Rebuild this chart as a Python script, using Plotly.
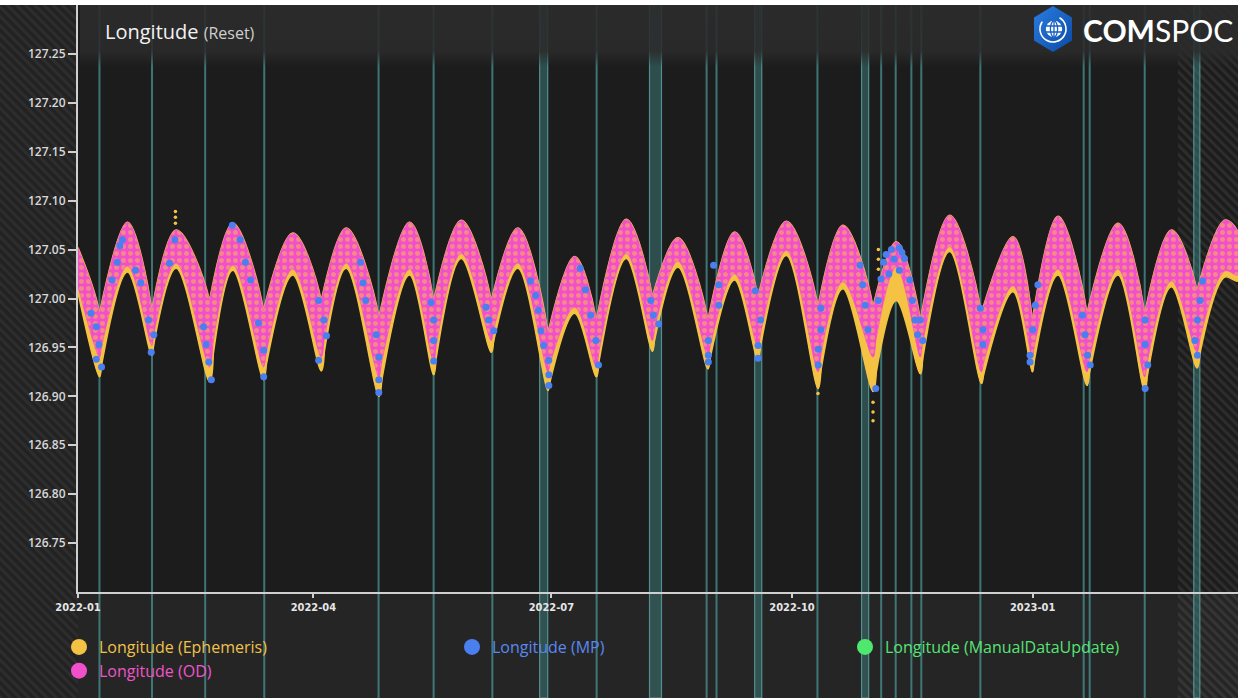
import base64
import plotly.graph_objects as go

# ---------------- data ----------------
# band boundaries: left edge, 21 troughs (manoeuvre cusps), right edge
bound_dates = ['2022-01-01 00:00', '2022-01-09 05:00', '2022-01-29 05:00', '2022-02-20 07:00',
               '2022-03-12 22:00', '2022-04-04 00:00', '2022-04-26 01:00', '2022-05-16 23:00',
               '2022-06-08 00:00', '2022-06-29 16:00', '2022-07-18 04:00', '2022-08-08 14:00',
               '2022-08-29 20:00', '2022-09-17 23:00', '2022-10-10 22:00', '2022-10-31 23:00',
               '2022-11-19 01:00', '2022-12-12 09:00', '2022-12-31 21:00', '2023-01-21 18:00',
               '2023-02-12 20:00', '2023-03-04 20:00', '2023-03-20 12:00']
eph_bound_upper = [127.052, 126.985, 126.988, 126.998, 126.988, 126.998, 126.981, 126.998,
                   126.998, 126.965, 126.978, 127.002, 126.978, 127.002, 126.992, 126.992,
                   126.978, 126.985, 126.978, 126.985, 126.985, 127.008, 127.068]
eph_bound_lower = [127.006, 126.920, 126.942, 126.915, 126.917, 126.926, 126.900, 126.922,
                   126.945, 126.906, 126.920, 126.946, 126.928, 126.937, 126.908, 126.905,
                   126.923, 126.913, 126.925, 126.911, 126.905, 126.929, 127.018]
# arch tops between troughs
peak_dates = ['2022-01-19 22:00', '2022-02-07 13:00', '2022-03-01 05:00', '2022-03-24 03:00',
              '2022-04-13 13:00', '2022-05-07 18:00', '2022-05-27 13:00', '2022-06-18 04:00',
              '2022-07-09 21:00', '2022-07-29 15:00', '2022-08-18 09:00', '2022-09-09 01:00',
              '2022-09-28 20:00', '2022-10-20 11:00', '2022-11-09 21:00', '2022-11-30 06:00',
              '2022-12-24 12:00', '2023-01-10 16:00', '2023-02-02 15:00', '2023-02-23 01:00',
              '2023-03-15 10:00']
eph_peak_upper = [127.078, 127.070, 127.077, 127.067, 127.072, 127.078, 127.080, 127.072,
                  127.043, 127.081, 127.062, 127.068, 127.079, 127.075, 127.058, 127.085,
                  127.063, 127.084, 127.077, 127.070, 127.080]
eph_peak_lower = [127.027, 127.031, 127.029, 127.024, 127.031, 127.024, 127.041, 127.031,
                  126.985, 127.041, 127.032, 127.019, 127.044, 127.010, 126.998, 127.048,
                  127.007, 127.024, 127.024, 127.012, 127.022]
# OD (pink) lower reach
od_bound_lower = [127.012, 126.940, 126.952, 126.930, 126.930, 126.940, 126.920, 126.935,
                  126.957, 126.925, 126.930, 126.957, 126.940, 126.950, 126.925, 126.940,
                  126.940, 126.925, 126.940, 126.925, 126.920, 126.945, 127.024]
od_peak_lower = [127.033, 127.036, 127.034, 127.030, 127.036, 127.030, 127.046, 127.036,
                 126.991, 127.046, 127.038, 127.025, 127.049, 127.017, 127.032, 127.053,
                 127.013, 127.030, 127.030, 127.018, 127.028]
# isolated ephemeris streaks (spikes)
eph_extra_dates = ['2022-02-07 06:00', '2022-02-07 06:00', '2022-02-07 06:00',
                   '2022-11-03 00:00', '2022-11-03 00:00', '2022-11-03 00:00',
                   '2022-10-31 23:00', '2022-10-31 23:00', '2022-10-31 23:00',
                   '2022-10-10 22:00']
eph_extra_values = [127.089, 127.083, 127.077, 127.050, 127.040, 127.030,
                    126.875, 126.884, 126.894, 126.903]
# MP (blue) points
mp_dates = ['2022-01-06', '2022-01-08', '2022-01-09', '2022-01-08', '2022-01-10',
            '2022-01-14', '2022-01-16', '2022-01-17', '2022-01-18', '2022-01-23', '2022-01-25',
            '2022-01-28', '2022-01-30', '2022-01-29', '2022-02-05', '2022-02-07',
            '2022-02-18', '2022-02-19', '2022-02-20', '2022-02-21',
            '2022-03-01', '2022-03-04', '2022-03-06', '2022-03-08',
            '2022-03-11', '2022-03-13', '2022-03-13',
            '2022-04-03', '2022-04-05', '2022-04-06', '2022-04-03',
            '2022-04-19', '2022-04-20', '2022-04-21',
            '2022-04-25', '2022-04-26', '2022-04-26', '2022-04-26',
            '2022-05-16', '2022-05-17', '2022-05-17', '2022-05-17',
            '2022-06-06', '2022-06-07', '2022-06-09',
            '2022-06-23', '2022-06-25', '2022-06-26', '2022-06-27', '2022-06-28', '2022-06-30',
            '2022-06-30', '2022-06-30',
            '2022-07-12', '2022-07-14', '2022-07-16', '2022-07-18', '2022-07-19',
            '2022-08-08', '2022-08-09', '2022-08-11',
            '2022-08-30', '2022-08-30', '2022-08-30',
            '2022-09-01', '2022-09-03', '2022-09-03',
            '2022-09-17', '2022-09-19', '2022-09-18', '2022-09-18',
            '2022-10-12', '2022-10-12', '2022-10-11', '2022-10-11',
            '2022-10-27', '2022-10-28', '2022-10-29', '2022-10-30',
            '2022-11-02', '2022-11-03', '2022-11-05', '2022-11-08', '2022-11-11', '2022-11-13',
            '2022-11-11', '2022-11-15', '2022-11-16', '2022-11-17', '2022-11-18',
            '2022-11-06', '2022-11-09', '2022-11-07', '2022-11-12', '2022-11-04',
            '2022-11-19', '2022-11-20',
            '2022-12-12', '2022-12-13', '2022-12-13',
            '2022-12-31', '2022-12-31', '2023-01-01', '2023-01-02', '2023-01-03',
            '2023-01-20', '2023-01-21', '2023-01-22', '2023-01-23',
            '2023-02-13', '2023-02-13', '2023-02-14', '2023-02-13',
            '2023-03-07', '2023-03-06', '2023-03-05', '2023-03-04', '2023-03-05']
mp_values = [126.985, 126.971, 126.953, 126.938, 126.930,
             127.019, 127.037, 127.054, 127.060, 127.029, 127.016,
             126.978, 126.963, 126.945, 127.036, 127.060,
             126.971, 126.953, 126.935, 126.917,
             127.075, 127.060, 127.037, 127.019,
             126.975, 126.947, 126.920,
             126.998, 126.978, 126.962, 126.937,
             127.037, 127.016, 126.998,
             126.963, 126.940, 126.917, 126.904,
             126.996, 126.978, 126.957, 126.936,
             126.991, 126.978, 126.967,
             127.018, 127.003, 126.988, 126.967, 126.952, 126.937,
             126.922, 126.911,
             127.031, 127.009, 126.983, 126.957, 126.932,
             126.998, 126.983, 126.974,
             126.957, 126.942, 126.935,
             127.034, 127.014, 126.993,
             127.008, 126.978, 126.952, 126.939,
             126.990, 126.968, 126.948, 126.932,
             127.034, 127.014, 126.993, 126.968,
             126.908, 126.998, 127.037, 127.050, 127.052, 127.041,
             127.029, 127.019, 126.998, 126.978, 126.963,
             127.045, 127.040, 127.025, 127.047, 127.020,
             126.978, 126.957,
             126.990, 126.968, 126.953,
             126.942, 126.935, 126.968, 126.993, 127.014,
             126.983, 126.963, 126.942, 126.932,
             126.978, 126.953, 126.932, 126.908,
             127.018, 126.998, 126.978, 126.957, 126.942]
# event markers (vertical lines) and event windows (bands)
event_dates = ['2022-01-09 05:00', '2022-01-29 07:00', '2022-02-18 15:00', '2022-03-13 05:00',
               '2022-04-25 22:00', '2022-05-16 23:00', '2022-06-08 10:00', '2022-07-18 07:00',
               '2022-08-29 08:00', '2022-09-02 03:00', '2022-10-10 17:00', '2022-11-04 02:00',
               '2022-11-09 15:00', '2022-11-15 15:00', '2022-11-19 10:00', '2022-12-12 00:00',
               '2023-01-20 12:00', '2023-01-22 19:00', '2023-02-12 20:00']
window_starts = ['2022-06-26 12:00', '2022-08-07 12:00', '2022-09-16 17:00',
                 '2022-10-27 14:00', '2023-03-03 14:00']
window_ends = ['2022-06-29 14:00', '2022-08-12 02:00', '2022-09-19 10:00',
               '2022-10-30 07:00', '2023-03-05 22:00']
y_ticks = [126.75, 126.80, 126.85, 126.90, 126.95, 127.00, 127.05, 127.10, 127.15, 127.20, 127.25]
x_range = ['2022-01-01 00:00', '2023-03-20 12:00']
y_range = [126.70, 127.30]

series_names = ['Longitude (Ephemeris)', 'Longitude (MP)', 'Longitude (ManualDataUpdate)', 'Longitude (OD)']

# ---------------- styles ----------------
YELLOW = '#f5c343'
PINK = '#f24fcb'
BLUE = '#4a7ff0'
GREEN = '#4ee86f'
TEXT_COLORS = ['#f0c14c', '#5a88f2', '#55e474', '#ee55c8']
SERIES_COLORS = [YELLOW, BLUE, GREEN, PINK]
AXIS_COLOR = '#cfcfcf'
W, H = 1238, 698
ML, MR, MT, MB = 78, 0, 5, 106
PW, PH = W - ML - MR, H - MT - MB


def px_x(p):
    return (p - ML) / PW


def px_y(p):
    return (H - MB - p) / PH


def svg_uri(svg):
    return 'data:image/svg+xml;base64,' + base64.b64encode(svg.encode()).decode()


def lobe(k, lower_b, lower_p):
    if k == 0:
        xs = [bound_dates[0], bound_dates[1], bound_dates[1], bound_dates[0]]
        ys = [eph_bound_upper[0], eph_bound_upper[1], lower_b[1], lower_b[0]]
    else:
        p = k - 1
        xs = [bound_dates[k], peak_dates[p], bound_dates[k + 1],
              bound_dates[k + 1], peak_dates[p], bound_dates[k]]
        ys = [eph_bound_upper[k], eph_peak_upper[p], eph_bound_upper[k + 1],
              lower_b[k + 1], lower_p[p], lower_b[k]]
    return xs, ys


fig = go.Figure()
n_lobes = len(bound_dates) - 1
for k in range(n_lobes):
    xs, ys = lobe(k, eph_bound_lower, eph_peak_lower)
    fig.add_trace(go.Scatter(x=xs, y=ys, mode='lines', fill='toself', fillcolor=YELLOW,
                             line=dict(color=YELLOW, width=1.5, shape='spline', smoothing=1),
                             hoverinfo='skip', showlegend=False))
for k in range(n_lobes):
    xs, ys = lobe(k, od_bound_lower, od_peak_lower)
    fig.add_trace(go.Scatter(x=xs, y=ys, mode='lines', fill='toself', fillcolor=PINK,
                             fillpattern=dict(shape='.', fgcolor=YELLOW, bgcolor=PINK,
                                              size=7, solidity=0.4),
                             line=dict(color=PINK, width=0.5, shape='spline', smoothing=1),
                             hoverinfo='skip', showlegend=False))
fig.add_trace(go.Scatter(x=eph_extra_dates, y=eph_extra_values, mode='markers',
                         marker=dict(color=YELLOW, size=3.5), hoverinfo='skip', showlegend=False))
fig.add_trace(go.Scatter(x=mp_dates, y=mp_values, mode='markers',
                         marker=dict(color=BLUE, size=7), name=series_names[1], showlegend=False))

# legend entries
for i, nm in enumerate(series_names):
    fig.add_trace(go.Scatter(x=[None], y=[None], mode='markers',
                             marker=dict(color=SERIES_COLORS[i], size=17),
                             name='<span style="color:%s">%s</span>' % (TEXT_COLORS[i], nm),
                             legendrank=i + 1, showlegend=True))

shapes = []
for d in event_dates:
    shapes.append(dict(type='line', xref='x', yref='paper', x0=d, x1=d,
                       y0=px_y(H), y1=px_y(0), layer='below',
                       line=dict(color='rgba(70,140,140,0.8)', width=2)))
for a, b in zip(window_starts, window_ends):
    shapes.append(dict(type='rect', xref='x', yref='paper', x0=a, x1=b,
                       y0=px_y(H), y1=px_y(0), layer='below',
                       fillcolor='rgba(62,118,118,0.55)',
                       line=dict(color='rgba(92,165,165,0.8)', width=1.2)))
# thin white frame line at the very top
shapes.append(dict(type='rect', xref='paper', yref='paper', x0=px_x(0), x1=px_x(W),
                   y0=px_y(MT), y1=px_y(0), fillcolor='white', line=dict(width=0), layer='above'))

hatch_left = ("<svg xmlns='http://www.w3.org/2000/svg' width='78' height='698' viewBox='0 0 78 698'>"
              "<defs><pattern id='h' width='6.5' height='6.5' patternUnits='userSpaceOnUse' "
              "patternTransform='rotate(-45)'><rect width='6.5' height='6.5' fill='#222222'/>"
              "<rect width='3' height='6.5' fill='#2d2d2d'/></pattern></defs>"
              "<rect width='78' height='698' fill='url(#h)'/></svg>")
hatch_right = ("<svg xmlns='http://www.w3.org/2000/svg' width='60' height='698' viewBox='0 0 60 698'>"
               "<defs><pattern id='h' width='6.5' height='6.5' patternUnits='userSpaceOnUse' "
               "patternTransform='rotate(-45)'><rect width='3' height='6.5' "
               "fill='rgba(255,255,255,0.075)'/></pattern></defs>"
               "<rect width='60' height='698' fill='url(#h)'/></svg>")
title_band = ("<svg xmlns='http://www.w3.org/2000/svg' width='1158' height='62' viewBox='0 0 1158 62' "
              "preserveAspectRatio='none'><defs><linearGradient id='g' x1='0' y1='0' x2='0' y2='1'>"
              "<stop offset='0' stop-color='#2c2c2c' stop-opacity='0.9'/>"
              "<stop offset='0.74' stop-color='#2b2b2b' stop-opacity='0.88'/>"
              "<stop offset='1' stop-color='#2b2b2b' stop-opacity='0'/></linearGradient></defs>"
              "<rect width='1158' height='62' fill='url(#g)'/></svg>")
logo = ("<svg xmlns='http://www.w3.org/2000/svg' width='42' height='48' viewBox='0 0 42 48'>"
        "<defs><linearGradient id='b' x1='0' y1='0' x2='1' y2='1'>"
        "<stop offset='0' stop-color='#2a7de1'/><stop offset='1' stop-color='#0b4aa6'/></linearGradient></defs>"
        "<polygon points='21,1 40,12.5 40,35.5 21,47 2,35.5 2,12.5' fill='url(#b)'/>"
        "<circle cx='21' cy='24' r='13' fill='none' stroke='white' stroke-width='1.6' "
        "stroke-dasharray='62 20' transform='rotate(-60 21 24)'/>"
        "<circle cx='22' cy='24' r='8.2' fill='white'/>"
        "<path d='M14 21 H30 M14 27 H30 M22 16 V32' stroke='#1660c4' stroke-width='1.3'/>"
        "<ellipse cx='22' cy='24' rx='3.6' ry='8.2' fill='none' stroke='#1660c4' stroke-width='1.3'/>"
        "</svg>")

images = [
    dict(source=svg_uri(hatch_left), xref='paper', yref='paper', x=px_x(0), y=px_y(0),
         sizex=78 / PW, sizey=H / PH, sizing='stretch', xanchor='left', yanchor='top', layer='below'),
    dict(source=svg_uri(hatch_right), xref='paper', yref='paper', x=px_x(1178), y=px_y(0),
         sizex=60 / PW, sizey=H / PH, sizing='stretch', xanchor='left', yanchor='top', layer='below'),
    dict(source=svg_uri(title_band), xref='paper', yref='paper', x=px_x(80), y=px_y(MT),
         sizex=1158 / PW, sizey=62 / PH, sizing='stretch', xanchor='left', yanchor='top', layer='above'),
    dict(source=svg_uri(logo), xref='paper', yref='paper', x=px_x(1032), y=px_y(5),
         sizex=42 / PW, sizey=48 / PH, sizing='stretch', xanchor='left', yanchor='top', layer='above'),
]

annotations = [
    dict(xref='paper', yref='paper', x=px_x(103), y=px_y(31), xanchor='left', yanchor='middle',
         showarrow=False,
         text='Longitude <span style="font-size:16px;color:#cfcfcf">(Reset)</span>',
         font=dict(family='Open Sans', size=20, color='#f2f2f2')),
    dict(xref='paper', yref='paper', x=px_x(1081), y=px_y(30), xanchor='left', yanchor='middle',
         showarrow=False, text='<b>COM</b>SPOC',
         font=dict(family='Lato', size=30, color='#ffffff')),
]

fig.update_layout(
    width=W, height=H,
    margin=dict(l=ML, r=MR, t=MT, b=MB),
    paper_bgcolor='#252525', plot_bgcolor='#1c1c1c',
    shapes=shapes, images=images, annotations=annotations,
    showlegend=True,
    legend=dict(orientation='h', x=px_x(66), xanchor='left', y=px_y(630), yanchor='top',
                bgcolor='rgba(0,0,0,0)', font=dict(family='Open Sans', size=16, color='#dddddd'),
                entrywidth=348, entrywidthmode='pixels', itemsizing='trace', tracegroupgap=0),
    xaxis=dict(type='date', range=x_range, tickformat='%Y-%m', dtick='M3', tick0='2022-01-01',
               showgrid=False, zeroline=False, showline=True, linecolor=AXIS_COLOR, linewidth=2,
               ticks='outside', ticklen=4, tickwidth=2, tickcolor=AXIS_COLOR,
               tickfont=dict(family='DejaVu Sans Condensed, DejaVu Sans', size=11,
                             color='#e6e6e6', weight='bold')),
    yaxis=dict(range=y_range, tickvals=y_ticks, tickformat='.2f',
               showgrid=False, zeroline=False, showline=True, linecolor=AXIS_COLOR, linewidth=2,
               ticks='outside', ticklen=8, tickwidth=1.5, tickcolor=AXIS_COLOR,
               tickfont=dict(family='Open Sans', size=12, color='#d8d8d8', weight=600)),
)

fig.write_html('out.html', config={'displayModeBar': False},
               post_script="document.body.style.margin='0';document.body.style.overflow='hidden';")
